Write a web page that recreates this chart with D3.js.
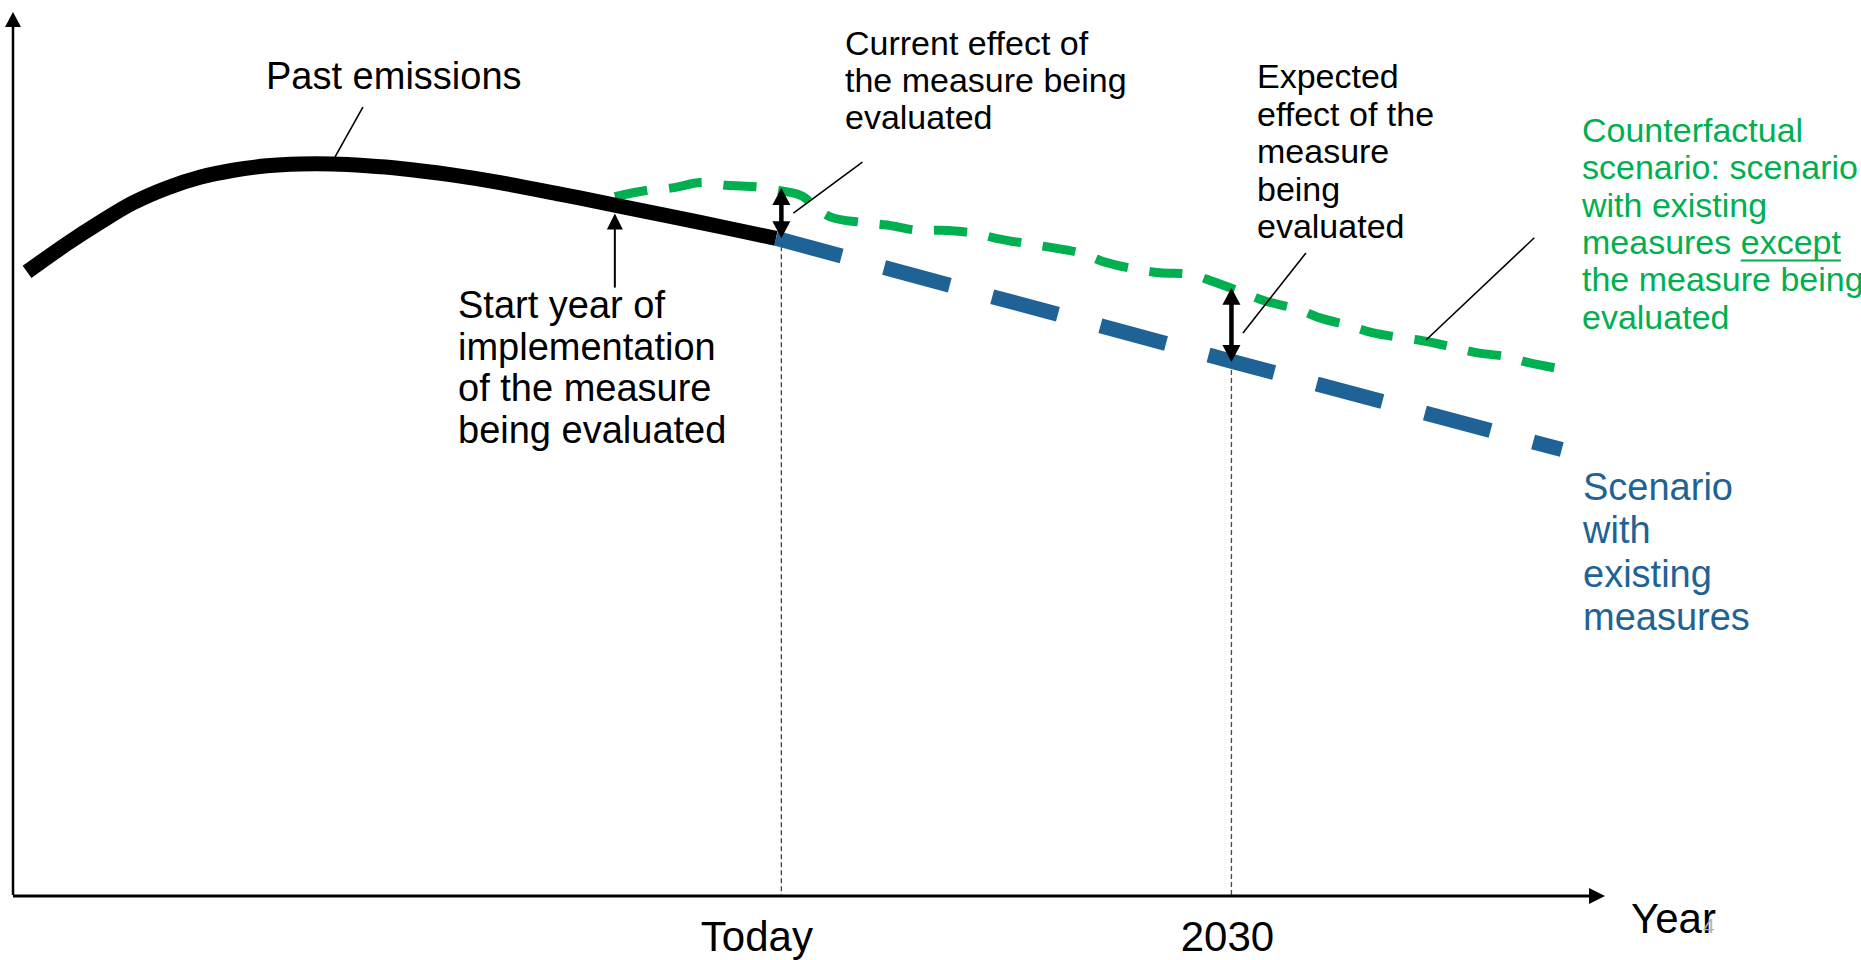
<!DOCTYPE html>
<html>
<head>
<meta charset="utf-8">
<script src="https://cdn.jsdelivr.net/npm/d3@7"></script>
<style>
  html, body { margin: 0; padding: 0; background: #fff; overflow: hidden; }
  svg { display: block; }
  text { font-family: "Liberation Sans", Arial, Helvetica, sans-serif; }
</style>
</head>
<body>
<svg id="chart" width="1861" height="960"></svg>
<script>
// ---- Data -------------------------------------------------------------
// Labelled positions on the time axis
const tickYears = [2020, 2030];
const tickLabels = ["Today", "2030"];
const axisTitle = "Year";

// Past emissions (index units)
const pastYears  = [2003.24, 2004.13, 2004.86, 2005.59, 2006.35, 2007.08, 2007.82, 2008.57, 2009.30,
                    2010.04, 2010.79, 2011.53, 2012.64, 2013.75, 2015.08, 2016.35, 2018.19, 2019.88];
const pastValues = [70.6, 73.8, 76.2, 78.4, 80.1, 81.3, 82.1, 82.6, 82.8,
                    82.8, 82.6, 82.3, 81.6, 80.7, 79.4, 78.1, 76.2, 74.4];

// Scenario with existing measures
const wemYears  = [2019.88, 2030, 2037.34];
const wemValues = [74.4, 60.5, 50.5];

// Counterfactual: existing measures except the measure being evaluated
const cfYears  = [2016.30, 2016.99, 2017.57, 2018.21, 2018.77, 2019.50, 2019.97, 2020.35, 2020.55, 2020.68,
                  2021.10, 2021.79, 2022.35, 2023.01, 2023.52, 2024.26, 2024.77, 2025.44, 2025.95, 2026.68,
                  2027.19, 2027.88, 2028.41, 2029.12, 2029.59, 2030.30, 2030.75, 2031.46, 2031.97, 2032.63,
                  2033.15, 2033.86, 2034.37, 2034.90, 2035.41, 2036.12, 2036.63, 2037.34];
const cfValues = [79.1, 79.8, 80.1, 80.7, 80.4, 80.2, 79.8, 79.4, 78.9, 78.2,
                  76.8, 76.2, 75.9, 75.3, 75.3, 75.0, 74.4, 73.8, 73.4, 72.7,
                  71.7, 70.9, 70.5, 70.3, 69.5, 68.2, 67.3, 66.4, 65.4, 64.5,
                  63.7, 63.1, 62.7, 62.1, 61.5, 61.0, 60.3, 59.6];

// Effect of the measure: counterfactual level vs. level with existing measures
const effectYears  = [2020, 2030];
const effectTop    = [80.1, 68.8];
const effectBottom = [74.4, 60.4];

// Year in which the evaluated measure starts
const startYear = 2016.3;
const startValue = 78.1;

// ---- Layout -----------------------------------------------------------
const svg = d3.select("#chart");
const BLACK = "#000", GREEN = "#00b050", BLUE = "#1f6396";

const x = d3.scaleLinear().domain([2002.95, 2038.3]).range([14, 1605]);
const y = d3.scaleLinear().domain([0, 100]).range([896, 12]);

const zip = (a, b) => a.map((v, i) => [v, b[i]]);
const line = d3.line().x(d => x(d[0])).y(d => y(d[1]));

// ---- Vertical guides at the labelled years ---------------------------
const guideStart = [y(wemValues[0]) + 8, y(effectBottom[1]) + 8];
svg.append("g").selectAll("line").data(tickYears).join("line")
  .attr("x1", d => x(d)).attr("x2", d => x(d))
  .attr("y1", (d, i) => guideStart[i]).attr("y2", y(0))
  .attr("stroke", "#444").attr("stroke-width", 1.3)
  .attr("stroke-dasharray", "5,3");

// ---- Axes -------------------------------------------------------------
const xAxis = d3.axisBottom(x).tickValues(tickYears)
  .tickFormat((d, i) => tickLabels[i]).tickSize(0).tickSizeOuter(0);
const gx = svg.append("g").attr("transform", `translate(0,${y(0)})`).call(xAxis);
gx.select(".domain").attr("stroke", BLACK).attr("stroke-width", 3)
  .attr("d", `M${x.range()[0] - 1},0H${x.range()[1] - 10}`);
const labelDx = [-25, -4.5];
gx.selectAll(".tick text")
  .attr("y", 55).attr("dy", 0)
  .attr("dx", (d, i) => labelDx[i])
  .attr("font-size", 42).attr("fill", BLACK)
  .attr("font-family", '"Liberation Sans", Arial, sans-serif');

const yAxis = d3.axisLeft(y).tickValues([]).tickSizeOuter(0);
const gy = svg.append("g").attr("transform", `translate(${x.range()[0] - 1},0)`).call(yAxis);
gy.select(".domain").attr("stroke", BLACK).attr("stroke-width", 2.5)
  .attr("d", `M0,${y(0) - 1}V${y(100) + 10}`);

// Arrow heads on both axes
const xEnd = x.range()[1], yTop = y(100);
svg.append("path").attr("fill", BLACK)
  .attr("d", `M${xEnd},${y(0)}L${xEnd - 16},${y(0) - 8}L${xEnd - 16},${y(0) + 8}Z`);
svg.append("path").attr("fill", BLACK)
  .attr("d", `M${x.range()[0] - 1},${yTop}L${x.range()[0] - 9},${yTop + 15}L${x.range()[0] + 7},${yTop + 15}Z`);

svg.append("text").attr("x", 1631).attr("y", 933)
  .attr("font-size", 42).attr("fill", BLACK).text(axisTitle);
svg.append("text").attr("x", 1703).attr("y", 933)
  .attr("font-size", 21).attr("fill", "#b5b5b5").text("4");

// ---- Series -----------------------------------------------------------
svg.append("path").datum(zip(cfYears, cfValues))
  .attr("d", line.curve(d3.curveCatmullRom.alpha(0.5)))
  .attr("fill", "none").attr("stroke", GREEN).attr("stroke-width", 9)
  .attr("stroke-dasharray", "33,22");

svg.append("path").datum(zip(pastYears, pastValues))
  .attr("d", line.curve(d3.curveCatmullRom.alpha(0.5)))
  .attr("fill", "none").attr("stroke", BLACK).attr("stroke-width", 15)
  .attr("stroke-linecap", "butt");

svg.append("path").datum(zip(wemYears, wemValues))
  .attr("d", line.curve(d3.curveLinear))
  .attr("fill", "none").attr("stroke", BLUE).attr("stroke-width", 15)
  .attr("stroke-dasharray", "68,44");

// ---- Effect arrows ----------------------------------------------------
function doubleArrow(px, yTopPx, yBotPx) {
  const g = svg.append("g");
  const head = 17, half = 9;
  g.append("line").attr("x1", px).attr("x2", px)
    .attr("y1", yTopPx + head - 2).attr("y2", yBotPx - head + 2)
    .attr("stroke", BLACK).attr("stroke-width", 4.5);
  g.append("path").attr("fill", BLACK)
    .attr("d", `M${px},${yTopPx}L${px - half},${yTopPx + head}L${px + half},${yTopPx + head}Z`);
  g.append("path").attr("fill", BLACK)
    .attr("d", `M${px},${yBotPx}L${px - half},${yBotPx - head}L${px + half},${yBotPx - head}Z`);
}
effectYears.forEach((yr, i) => doubleArrow(x(yr), y(effectTop[i]), y(effectBottom[i])));

// Start-year arrow pointing at the past-emissions line
{
  const px = x(startYear), tip = y(startValue) + 8;
  svg.append("line").attr("x1", px).attr("x2", px)
    .attr("y1", tip + 12).attr("y2", tip + 74)
    .attr("stroke", BLACK).attr("stroke-width", 2);
  svg.append("path").attr("fill", BLACK)
    .attr("d", `M${px},${tip}L${px - 8},${tip + 16}L${px + 8},${tip + 16}Z`);
}

// ---- Leader lines -----------------------------------------------------
const leaders = [
  [x(2010.08), y(82.8) - 7, 28, -50],
  [x(effectYears[0]) + 12, (y(effectTop[0]) + y(effectBottom[0])) / 2, 69, -51],
  [x(effectYears[1]) + 11.5, (y(effectTop[1]) + y(effectBottom[1])) / 2 + 8, 63, -80],
  [x(2034.33), y(62.7) - 2, 108, -102]
];
svg.append("g").selectAll("line").data(leaders).join("line")
  .attr("x1", d => d[0]).attr("y1", d => d[1])
  .attr("x2", d => d[0] + d[2]).attr("y2", d => d[1] + d[3])
  .attr("stroke", BLACK).attr("stroke-width", 1.6);

// ---- Text labels ------------------------------------------------------
function block(lines, x0, y0, lh, size, color) {
  const t = svg.append("text").attr("font-size", size).attr("fill", color);
  lines.forEach((s, i) => t.append("tspan").attr("x", x0).attr("y", y0 + i * lh).text(s));
  return t;
}

block(["Past emissions"], 266, 89, 0, 38, BLACK);
block(["Start year of", "implementation", "of the measure", "being evaluated"], 458, 318, 41.7, 38, BLACK);
block(["Current effect of", "the measure being", "evaluated"], 845, 55, 37, 34, BLACK);
block(["Expected", "effect of the", "measure", "being", "evaluated"], 1257, 88, 37.5, 34, BLACK);
block(["Scenario", "with", "existing", "measures"], 1583, 500, 43.3, 38, BLUE);

// Counterfactual label, with "except" underlined
{
  const gx0 = 1582, gy0 = 142, lh = 37.3, size = 34;
  block(["Counterfactual", "scenario: scenario", "with existing"], gx0, gy0, lh, size, GREEN);
  const lead = svg.append("text").attr("x", gx0).attr("y", gy0 + 3 * lh)
    .attr("font-size", size).attr("fill", GREEN).attr("xml:space", "preserve").text("measures ");
  const w = lead.node().getComputedTextLength();
  const ex = svg.append("text").attr("x", gx0 + w).attr("y", gy0 + 3 * lh)
    .attr("font-size", size).attr("fill", GREEN).text("except");
  const ew = ex.node().getComputedTextLength();
  svg.append("line").attr("x1", gx0 + w).attr("x2", gx0 + w + ew)
    .attr("y1", gy0 + 3 * lh + 6.5).attr("y2", gy0 + 3 * lh + 6.5)
    .attr("stroke", GREEN).attr("stroke-width", 2);
  block(["the measure being", "evaluated"], gx0, gy0 + 4 * lh, lh, size, GREEN);
}
</script>
</body>
</html>
